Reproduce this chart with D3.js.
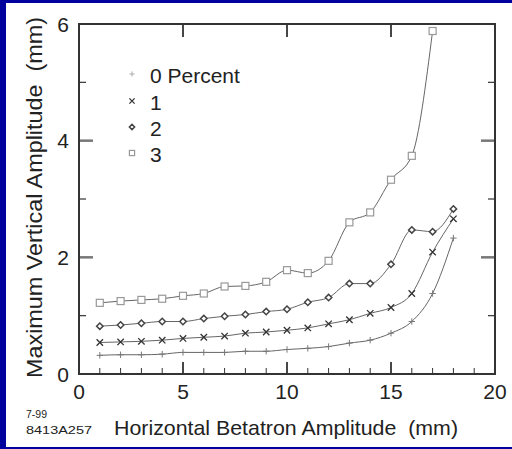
<!DOCTYPE html>
<html>
<head>
<meta charset="utf-8">
<script src="https://cdn.jsdelivr.net/npm/d3@7"></script>
<style>
  body { margin: 0; }
  text { font-family: "Liberation Sans", Arial, sans-serif; fill: #222; white-space: pre; }
</style>
</head>
<body>
<script>
const width = 512;
const height = 449;

// data
const xValues = [1, 2, 3, 4, 5, 6, 7, 8, 9, 10, 11, 12, 13, 14, 15, 16, 17, 18];
const pct0 = [0.32, 0.33, 0.33, 0.34, 0.37, 0.37, 0.37, 0.39, 0.39, 0.42, 0.44, 0.47, 0.53, 0.58, 0.70, 0.90, 1.38, 2.33];
const pct1 = [0.54, 0.55, 0.56, 0.58, 0.61, 0.63, 0.65, 0.70, 0.72, 0.75, 0.79, 0.86, 0.93, 1.04, 1.14, 1.38, 2.09, 2.66];
const pct2 = [0.82, 0.84, 0.87, 0.90, 0.90, 0.95, 0.99, 1.02, 1.07, 1.11, 1.23, 1.31, 1.55, 1.55, 1.88, 2.47, 2.44, 2.83];
const pct3 = [1.22, 1.25, 1.27, 1.29, 1.34, 1.38, 1.50, 1.51, 1.58, 1.78, 1.73, 1.94, 2.60, 2.77, 3.33, 3.74, 5.88];
const legendLabels = ['0 Percent', '1', '2', '3'];
const xTicks = [0, 5, 10, 15, 20];
const yTicks = [0, 2, 4, 6];

const series = [
  {name: legendLabels[0], values: pct0, shape: 'plus', color: '#777'},
  {name: legendLabels[1], values: pct1, shape: 'cross', color: '#333'},
  {name: legendLabels[2], values: pct2, shape: 'diamond', color: '#444'},
  {name: legendLabels[3], values: pct3, shape: 'square', color: '#999'}
];

const plot = {left: 79, right: 495, top: 24, bottom: 374};

const x = d3.scaleLinear().domain([0, 20]).range([plot.left, plot.right]);
const y = d3.scaleLinear().domain([0, 6]).range([plot.bottom, plot.top]);

const svg = d3.select('body').append('svg')
  .attr('width', width)
  .attr('height', height);

svg.append('rect').attr('width', width).attr('height', height).attr('fill', '#00009c');
svg.append('rect').attr('x', 6).attr('y', 3).attr('width', width - 6).attr('height', height - 5).attr('fill', '#fff');

// ticks
const tickG = svg.append('g');
// bottom minor
tickG.selectAll('.bminor').data(d3.range(1, 20)).enter().append('line')
  .attr('x1', d => x(d)).attr('x2', d => x(d))
  .attr('y1', plot.bottom).attr('y2', d => plot.bottom - (d % 5 === 0 ? 12 : 6))
  .attr('stroke', '#333').attr('stroke-width', d => d % 5 === 0 ? 1.8 : 1);
// top major
tickG.selectAll('.tmajor').data([5, 10, 15]).enter().append('line')
  .attr('x1', d => x(d)).attr('x2', d => x(d))
  .attr('y1', plot.top).attr('y2', plot.top + 13)
  .attr('stroke', '#333').attr('stroke-width', 1.8);
// left / right
[plot.left, plot.right].forEach((edge, i) => {
  const dir = i === 0 ? 1 : -1;
  tickG.selectAll(null).data([1, 2, 3, 4, 5]).enter().append('line')
    .attr('y1', d => y(d)).attr('y2', d => y(d))
    .attr('x1', edge).attr('x2', d => edge + dir * (d % 2 === 0 ? 14 : 7))
    .attr('stroke', d => d % 2 === 0 ? '#777' : '#333')
    .attr('stroke-width', d => d % 2 === 0 ? 2.5 : 1.2);
});

// frame
svg.append('rect')
  .attr('x', plot.left).attr('y', plot.top)
  .attr('width', plot.right - plot.left).attr('height', plot.bottom - plot.top)
  .attr('fill', 'none').attr('stroke', '#333').attr('stroke-width', 2);

// tick labels
svg.append('g').selectAll('text').data(xTicks).enter().append('text')
  .attr('x', d => x(d)).attr('y', 399)
  .attr('text-anchor', 'middle').attr('font-size', 21)
  .text(d => d);
svg.append('g').selectAll('text').data(yTicks).enter().append('text')
  .attr('x', 69).attr('y', d => y(d)).attr('dy', '0.36em')
  .attr('text-anchor', 'end').attr('font-size', 21)
  .text(d => d);

// axis titles
svg.append('text')
  .attr('x', 286).attr('y', 435)
  .attr('text-anchor', 'middle').attr('font-size', 21)
  .attr('textLength', 344).attr('lengthAdjust', 'spacingAndGlyphs')
  .text('Horizontal Betatron Amplitude  (mm)');
svg.append('text')
  .attr('transform', 'translate(42,197.5) rotate(-90)')
  .attr('text-anchor', 'middle').attr('font-size', 21.5)
  .attr('textLength', 361).attr('lengthAdjust', 'spacingAndGlyphs')
  .text('Maximum Vertical Amplitude  (mm)');

svg.append('text').attr('x', 26).attr('y', 418).attr('font-size', 11)
  .attr('textLength', 21).attr('lengthAdjust', 'spacingAndGlyphs').text('7-99');
svg.append('text').attr('x', 26).attr('y', 434).attr('font-size', 11)
  .attr('textLength', 66).attr('lengthAdjust', 'spacingAndGlyphs').text('8413A257');

// markers
function drawMarker(g, shape, cx, cy, r, color) {
  if (shape === 'square') {
    g.append('rect').attr('x', cx - r).attr('y', cy - r).attr('width', 2 * r).attr('height', 2 * r)
      .attr('fill', '#fff').attr('stroke', color).attr('stroke-width', 1.2);
  } else if (shape === 'diamond') {
    g.append('path').attr('d', `M${cx},${cy - r}L${cx + r},${cy}L${cx},${cy + r}L${cx - r},${cy}Z`)
      .attr('fill', '#fff').attr('stroke', color).attr('stroke-width', 1.5);
  } else if (shape === 'cross') {
    g.append('path').attr('d', `M${cx - r},${cy - r}L${cx + r},${cy + r}M${cx - r},${cy + r}L${cx + r},${cy - r}`)
      .attr('stroke', color).attr('stroke-width', 1.3);
  } else {
    g.append('path').attr('d', `M${cx - r},${cy}L${cx + r},${cy}M${cx},${cy - r}L${cx},${cy + r}`)
      .attr('stroke', color).attr('stroke-width', 1);
  }
}

const line = d3.line()
  .x((d, i) => x(xValues[i]))
  .y(d => y(d))
  .curve(d3.curveMonotoneX);

series.forEach(s => {
  svg.append('path')
    .attr('d', line(s.values))
    .attr('fill', 'none').attr('stroke', '#666').attr('stroke-width', 1);
  const g = svg.append('g');
  s.values.forEach((v, i) => drawMarker(g, s.shape, x(xValues[i]), y(v), s.shape === 'square' ? 3.5 : 3.2, s.color));
});

// legend
const legendBase = [83, 110, 136, 162];
series.forEach((s, i) => {
  const g = svg.append('g');
  drawMarker(g, s.shape, 132, legendBase[i] - 9, 2.6, s.shape === 'plus' ? '#aaa' : s.color);
  g.append('text').attr('x', 150).attr('y', legendBase[i]).attr('font-size', 21).text(s.name);
});
</script>
</body>
</html>
